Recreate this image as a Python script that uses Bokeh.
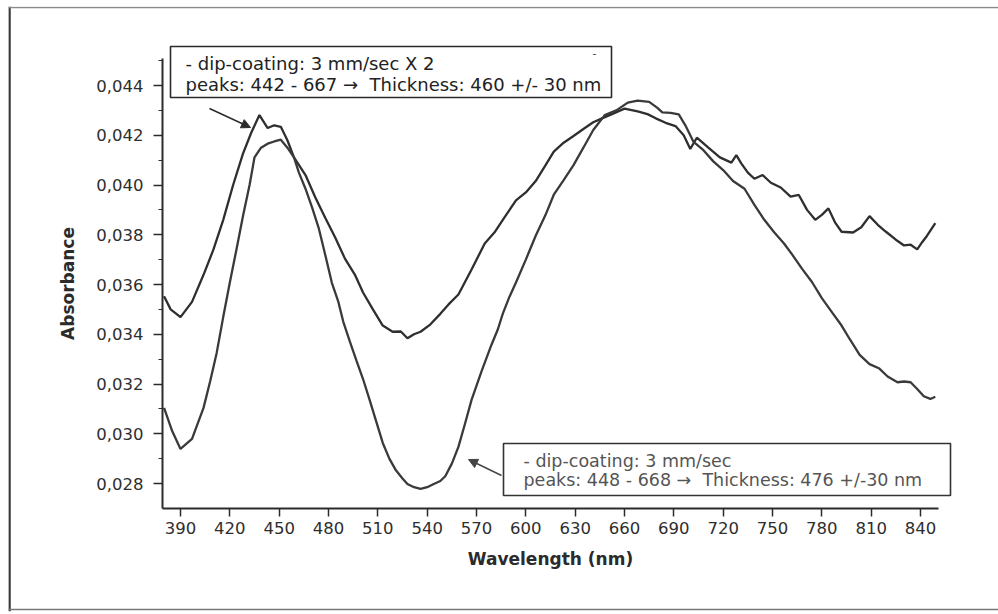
from bokeh.plotting import figure
from bokeh.models import (Range1d, LinearAxis, FixedTicker, Label, BoxAnnotation,
                          Arrow, NormalHead, Span, CustomJSTickFormatter)
from bokeh.embed import file_html
from bokeh.resources import INLINE

# ---------------- data ----------------
wl_a = [380, 384, 390, 397, 404, 410, 416, 422, 428, 433, 438, 443, 447, 451, 455, 459,
        466, 472, 478, 484, 490, 496, 501, 507, 513, 519, 524, 528, 532, 536, 542, 548,
        553, 559, 567, 575, 581, 586, 594, 600, 606, 612, 617, 623, 629, 635, 641, 647,
        652, 660, 668, 674, 679, 685, 691, 696, 700, 704, 711, 718, 725, 728, 731, 735,
        739, 744, 749, 755, 761, 766, 771, 776, 780, 784, 788, 792, 799, 804, 809, 814,
        819, 825, 830, 834, 838, 841, 844, 849]
abs_a = [0.03553, 0.03500, 0.03469, 0.03530, 0.03639, 0.03740, 0.03860, 0.04000, 0.04126,
         0.04210, 0.04281, 0.04229, 0.04240, 0.04234, 0.04180, 0.04111, 0.04040, 0.03950,
         0.03868, 0.03790, 0.03704, 0.03640, 0.03568, 0.03500, 0.03435, 0.03410, 0.03411,
         0.03384, 0.03400, 0.03410, 0.03440, 0.03482, 0.03520, 0.03560, 0.03660, 0.03765,
         0.03810, 0.03860, 0.03938, 0.03970, 0.04016, 0.04080, 0.04134, 0.04170, 0.04197,
         0.04225, 0.04252, 0.04270, 0.04284, 0.04307, 0.04296, 0.04285, 0.04268, 0.04250,
         0.04237, 0.04200, 0.04145, 0.04190, 0.04150, 0.04111, 0.04090, 0.04120, 0.04087,
         0.04050, 0.04025, 0.04040, 0.04009, 0.03990, 0.03953, 0.03960, 0.03900, 0.03860,
         0.03880, 0.03906, 0.03850, 0.03812, 0.03809, 0.03830, 0.03875, 0.03840, 0.03812,
         0.03780, 0.03757, 0.03760, 0.03741, 0.03770, 0.03796, 0.03847]

wl_b = [380, 385, 390, 397, 404, 408, 412, 416, 420, 424, 428, 432, 435, 439, 443, 447,
        451, 455, 459, 462, 466, 470, 474, 478, 482, 486, 489, 493, 497, 501, 505, 509,
        513, 517, 521, 525, 528, 532, 536, 540, 544, 548, 551, 555, 559, 563, 567, 573,
        579, 583, 586, 590, 594, 600, 606, 612, 617, 623, 629, 635, 641, 648, 655, 662,
        668, 675, 680, 683, 688, 693, 697, 702, 708, 714, 720, 726, 733, 739, 745, 751,
        757, 762, 768, 774, 780, 786, 792, 797, 803, 809, 815, 820, 826, 830, 834, 838,
        842, 846, 849]
abs_b = [0.03104, 0.03010, 0.02939, 0.02979, 0.03104, 0.03210, 0.03325, 0.03470, 0.03608,
         0.03740, 0.03875, 0.04000, 0.04111, 0.04150, 0.04166, 0.04175, 0.04182, 0.04150,
         0.04111, 0.04050, 0.03985, 0.03910, 0.03828, 0.03720, 0.03608, 0.03530, 0.03450,
         0.03370, 0.03294, 0.03220, 0.03136, 0.03050, 0.02963, 0.02900, 0.02853, 0.02820,
         0.02798, 0.02785, 0.02778, 0.02785, 0.02798, 0.02810, 0.02829, 0.02880, 0.02947,
         0.03040, 0.03136, 0.03250, 0.03356, 0.03420, 0.03483, 0.03550, 0.03608, 0.03700,
         0.03796, 0.03880, 0.03961, 0.04020, 0.04080, 0.04150, 0.04221, 0.04281, 0.04300,
         0.04331, 0.04339, 0.04334, 0.04310, 0.04292, 0.04290, 0.04284, 0.04240, 0.04173,
         0.04140, 0.04095, 0.04060, 0.04016, 0.03985, 0.03920, 0.03860, 0.03810, 0.03765,
         0.03720, 0.03663, 0.03610, 0.03545, 0.03490, 0.03435, 0.03380, 0.03317, 0.03280,
         0.03262, 0.03230, 0.03207, 0.03210, 0.03207, 0.03180, 0.03151, 0.03140, 0.03149]

x_ticks = [390, 420, 450, 480, 510, 540, 570, 600, 630, 660, 690, 720, 750, 780, 810, 840]
y_ticks = [0.028, 0.030, 0.032, 0.034, 0.036, 0.038, 0.040, 0.042, 0.044]
y_minor = [0.029, 0.031, 0.033, 0.035, 0.037, 0.039, 0.041, 0.043, 0.045]

NB = "\u00a0"
label_a1 = "- dip-coating: 3 mm/sec X 2"
label_a2 = "peaks: 442 - 667 \u2192" + NB + NB + "Thickness: 460 +/- 30 nm"
label_b1 = "- dip-coating: 3 mm/sec"
label_b2 = "peaks: 448 - 668 \u2192" + NB + NB + "Thickness: 476 +/-30 nm"

# ---------------- layout geometry (pixels) ----------------
W, H = 998, 614
FL, FT, FR, FB = 8, 6, 998, 611          # outer frame edges
PX390, PX840 = 180.0, 920.0              # x tick anchors
PY028, PY044 = 483.0, 85.0               # y tick anchors
kx = (PX840 - PX390) / 450.0
ky = (PY028 - PY044) / 0.016


def X(px):
    return 390 + (px - PX390) / kx


def Y(py):
    return 0.028 + (PY028 - py) / ky


p = figure(width=W, height=H,
           x_range=Range1d(X(FL), X(FR)), y_range=Range1d(Y(FB), Y(FT)),
           output_backend="svg", toolbar_location=None,
           x_axis_type=None, y_axis_type=None,
           min_border_left=FL, min_border_right=W - FR,
           min_border_top=FT, min_border_bottom=H - FB)
p.outline_line_color = None
p.background_fill_color = "white"
p.border_fill_color = "white"

AX = "#2b2b2b"
FONT = "DejaVu Sans"

xaxis = LinearAxis(fixed_location=Y(508), bounds=(X(162), X(938)),
                   ticker=FixedTicker(ticks=x_ticks))
xaxis.axis_line_color = AX
xaxis.axis_line_width = 2
xaxis.major_tick_line_color = AX
xaxis.major_tick_line_width = 1.5
xaxis.major_tick_in = 0
xaxis.major_tick_out = 8
xaxis.minor_tick_line_color = None
xaxis.major_label_text_font = FONT
xaxis.major_label_text_font_size = "16.5px"
xaxis.major_label_text_color = "#2e2e2e"
xaxis.major_label_standoff = 5
xaxis.axis_label = "Wavelength (nm)"
xaxis.axis_label_text_font = FONT
xaxis.axis_label_text_font_size = "17px"
xaxis.axis_label_text_font_style = "bold"
xaxis.axis_label_text_color = "#2b2b2b"
xaxis.axis_label_standoff = 12
p.add_layout(xaxis, "below")

yaxis = LinearAxis(fixed_location=X(162), bounds=(Y(508), Y(58)),
                   ticker=FixedTicker(ticks=y_ticks, minor_ticks=y_minor),
                   formatter=CustomJSTickFormatter(code="return tick.toFixed(3).replace('.', ',');"))
yaxis.axis_line_color = AX
yaxis.axis_line_width = 2
yaxis.major_tick_line_color = AX
yaxis.major_tick_line_width = 1.5
yaxis.major_tick_in = 0
yaxis.major_tick_out = 9
yaxis.minor_tick_line_color = AX
yaxis.minor_tick_line_width = 1.2
yaxis.minor_tick_in = 0
yaxis.minor_tick_out = 4
yaxis.major_label_text_font = FONT
yaxis.major_label_text_font_size = "16.5px"
yaxis.major_label_text_color = "#2e2e2e"
yaxis.major_label_standoff = 10
yaxis.axis_label = "Absorbance"
yaxis.axis_label_text_font = FONT
yaxis.axis_label_text_font_size = "17px"
yaxis.axis_label_text_font_style = "bold"
yaxis.axis_label_text_color = "#2b2b2b"
yaxis.axis_label_standoff = 15
p.add_layout(yaxis, "left")

# curves
p.line(wl_a, abs_a, line_color="#2f2f2f", line_width=2.3)
p.line(wl_b, abs_b, line_color="#3a3a3a", line_width=2.3)

# outer scanned-page frame
p.add_layout(Span(location=X(FL + 1), dimension="height", line_color="#3a3a3a", line_width=2.5))
p.add_layout(Span(location=Y(FT + 1), dimension="width", line_color="#8a8a8a", line_width=1.5))
p.add_layout(Span(location=Y(FB - 2), dimension="width", line_color="#777777", line_width=1.5))

# annotation box 1
p.add_layout(BoxAnnotation(left=X(170), right=X(611), top=Y(46), bottom=Y(97),
                           fill_color="white", fill_alpha=1.0,
                           line_color="#2b2b2b", line_alpha=1.0, line_width=1.6))
p.add_layout(Label(x=X(185), y=Y(63), text=label_a1, text_font=FONT,
                   text_font_size="18px", text_baseline="middle", text_color="#222222"))
p.add_layout(Label(x=X(185), y=Y(84), text=label_a2, text_font=FONT,
                   text_font_size="18px", text_baseline="middle", text_color="#222222"))
p.add_layout(Label(x=X(592), y=Y(52), text="-", text_font=FONT,
                   text_font_size="11px", text_baseline="middle", text_color="#444444"))
p.add_layout(Arrow(x_start=X(209), y_start=Y(108), x_end=X(250), y_end=Y(127),
                   line_color="#2b2b2b", line_width=1.5,
                   end=NormalHead(size=9, fill_color="#2b2b2b", line_color="#2b2b2b")))

# annotation box 2
p.add_layout(BoxAnnotation(left=X(503), right=X(950), top=Y(443), bottom=Y(495),
                           fill_color="white", fill_alpha=1.0,
                           line_color="#333333", line_alpha=1.0, line_width=1.6))
p.add_layout(Label(x=X(523), y=Y(460), text=label_b1, text_font=FONT,
                   text_font_size="17.5px", text_baseline="middle", text_color="#555555"))
p.add_layout(Label(x=X(523), y=Y(479), text=label_b2, text_font=FONT,
                   text_font_size="17.5px", text_baseline="middle", text_color="#555555"))
p.add_layout(Arrow(x_start=X(501), y_start=Y(475), x_end=X(468), y_end=Y(459),
                   line_color="#444444", line_width=1.5,
                   end=NormalHead(size=9, fill_color="#444444", line_color="#444444")))

open("out.html", "w").write(file_html(p, INLINE))
